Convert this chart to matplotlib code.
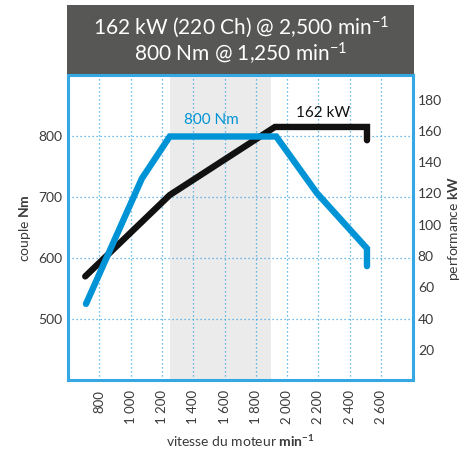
import matplotlib
matplotlib.use("Agg")
import matplotlib.pyplot as plt
from matplotlib.patches import Rectangle

plt.rcParams['font.family'] = ['Lato', 'DejaVu Sans']
plt.rcParams['mathtext.fontset'] = 'custom'
plt.rcParams['mathtext.rm'] = 'Lato'
plt.rcParams['mathtext.it'] = 'Lato:italic'
plt.rcParams['mathtext.bf'] = 'Lato:bold'

# ---- data ----
rpm_torque = [715, 1072, 1250, 1930, 2190, 2510, 2510]
torque_nm = [525, 731, 800, 800, 707, 616, 587]
rpm_power = [710, 1250, 1922, 2510, 2510]
power_kw = [67, 119, 162.5, 162.5, 154]
x_ticks = [800, 1000, 1200, 1400, 1600, 1800, 2000, 2200, 2400, 2600]
x_tick_labels = ['800', '1 000', '1 200', '1 400', '1 600', '1 800',
                 '2 000', '2 200', '2 400', '2 600']
left_ticks = [500, 600, 700, 800]
right_ticks = [20, 40, 60, 80, 100, 120, 140, 160, 180]
band = [1250, 1900]
title_lines = [r"162 kW (220 Ch) @ 2,500 min$^{\mathregular{-1}}$",
               r"800 Nm @ 1,250 min$^{\mathregular{-1}}$"]
torque_label = "800 Nm"
power_label = "162 kW"

BLUE = '#0094d6'
FRAME = '#35a7e2'
GRID = '#3aa6e0'
TXT = '#3a3a3a'

W, H = 463, 451
fig = plt.figure(figsize=(W / 100, H / 100), dpi=100)
fig.patch.set_facecolor('white')

L, R, T, B = 68, 413, 75, 380
ax = fig.add_axes([L / W, 1 - B / H, (R - L) / W, (B - T) / H])
ax2 = ax.twinx()
ax3 = ax.twinx()

ax.set_xlim(600, 2804)
ax.set_ylim(400, 901)
ax2.set_ylim(0.8, 195.7)
ax3.set_ylim(400, 901)

# shading band and grid on base axes
ax.axvspan(band[0], band[1], color='#ebebeb', lw=0, zorder=0)
for xv in x_ticks:
    ax.axvline(xv, color=GRID, lw=0.9, ls=(0, (1, 2.2)), zorder=0.5)
for yv in left_ticks:
    ax.axhline(yv, color=GRID, lw=0.9, ls=(0, (1, 2.2)), zorder=0.5)

# power (right axis), below torque
ax2.plot(rpm_power, power_kw, color='#111111', lw=4.6,
         solid_capstyle='round', solid_joinstyle='miter')
ax2.text(2230, 171.5, power_label, color='#111111', fontsize=11,
         ha='center', va='center')

# torque (left axis), on top
ax3.plot(rpm_torque, torque_nm, color=BLUE, lw=4.6,
         solid_capstyle='round', solid_joinstyle='miter')
ax3.text(1518, 827, torque_label, color=BLUE, fontsize=11,
         ha='center', va='center')

# ticks
ax.set_xticks(x_ticks)
ax.set_xticklabels(x_tick_labels, rotation=90, fontsize=9.5, color=TXT)
ax.set_yticks(left_ticks)
ax.set_yticklabels([str(v) for v in left_ticks], fontsize=10, color=TXT)
ax.tick_params(axis='x', length=0, pad=7)
ax.tick_params(axis='y', length=0, pad=4)
ax2.set_yticks(right_ticks)
ax2.set_yticklabels([str(v) for v in right_ticks], fontsize=10, color=TXT)
ax2.tick_params(axis='y', length=0, pad=3.5)
ax3.set_yticks([])
ax3.tick_params(length=0)

for s in ax.spines.values():
    s.set_color(FRAME)
    s.set_linewidth(2.2)
for a in (ax2, ax3):
    for s in a.spines.values():
        s.set_visible(False)

# axis labels
fig.text(25 / W, 1 - 228 / H, r"couple $\mathbf{Nm}$", rotation=90,
         ha='center', va='center', fontsize=10, color=TXT)
fig.text(454 / W, 1 - 228 / H, r"performance $\mathbf{kW}$", rotation=90,
         ha='center', va='center', fontsize=10, color=TXT)
fig.text(240 / W, 1 - 441 / H,
         r"vitesse du moteur $\mathbf{min}^{\mathbf{-1}}$",
         ha='center', va='center', fontsize=10, color=TXT)

# header box
fig.patches.append(Rectangle((67 / W, 1 - 74 / H), 347 / W, 69 / H,
                             transform=fig.transFigure, facecolor='#575756',
                             edgecolor='none', zorder=0))
fig.text(241 / W, 1 - 27 / H, title_lines[0], color='white', fontsize=15,
         ha='center', va='center')
fig.text(241 / W, 1 - 54 / H, title_lines[1], color='white', fontsize=15,
         ha='center', va='center')

fig.savefig('out.png', dpi=100)
